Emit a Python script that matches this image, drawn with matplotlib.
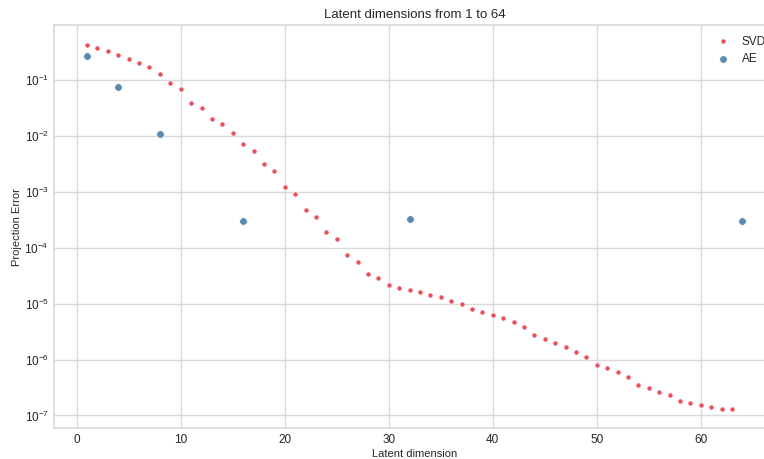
import numpy as np
import matplotlib
matplotlib.use("Agg")
import matplotlib.pyplot as plt

# SVD projection error for every latent dimension 1..63
svd_dims = list(range(1, 64))
svd_err = [
    0.434, 0.383, 0.334, 0.287, 0.243, 0.206, 0.171, 0.131, 0.0895, 0.069,
    0.0397, 0.0315, 0.0200, 0.0165, 0.01155, 0.00716, 0.00543, 0.00318, 0.00236, 0.00123,
    9.25e-4, 4.84e-4, 3.63e-4, 1.91e-4, 1.47e-4, 7.40e-5, 5.69e-5, 3.38e-5, 2.90e-5, 2.20e-5,
    1.95e-5, 1.77e-5, 1.61e-5, 1.46e-5, 1.33e-5, 1.13e-5, 9.8e-6, 8.1e-6, 7.2e-6, 6.3e-6,
    5.5e-6, 4.7e-6, 3.86e-6, 2.81e-6, 2.38e-6, 1.97e-6, 1.67e-6, 1.38e-6, 1.09e-6, 7.98e-7,
    6.93e-7, 5.88e-7, 4.86e-7, 3.50e-7, 3.09e-7, 2.62e-7, 2.32e-7, 1.83e-7, 1.67e-7, 1.51e-7,
    1.43e-7, 1.33e-7, 1.28e-7,
]

# autoencoder runs
ae_dims = [1, 4, 8, 16, 32, 64]
ae_err = [0.27, 0.076, 0.011, 3.05e-4, 3.26e-4, 3.04e-4]

plt.style.use("seaborn-v0_8-whitegrid")
plt.rcParams["font.family"] = ["Liberation Sans", "DejaVu Sans"]
plt.rcParams["text.color"] = ".15"
plt.rcParams["axes.labelcolor"] = ".15"
plt.rcParams["xtick.color"] = ".15"
plt.rcParams["ytick.color"] = ".15"

fig = plt.figure(figsize=(7.64, 4.59), dpi=100)
ax = fig.add_axes([0.0711, 0.0669, 0.9435, 0.8787])

ax.scatter(svd_dims, svd_err, s=14, color="#e9505c", edgecolors="white", linewidths=0.5, label="SVD", zorder=3)
ax.scatter(ae_dims, ae_err, s=30, color="#5b8bb0", edgecolors="white", linewidths=0.5, label="AE", zorder=3)

ax.set_yscale("log")
ax.set_xlim(-2.15, 67.15)
ax.set_ylim(10 ** -7.23, 10 ** -0.01)
ax.set_xticks([0, 10, 20, 30, 40, 50, 60])
ax.set_yticks([1e-7, 1e-6, 1e-5, 1e-4, 1e-3, 1e-2, 1e-1])
ax.minorticks_off()
ax.tick_params(labelsize=8.5, pad=4)

for sp in ax.spines.values():
    sp.set_color(".85")
    sp.set_linewidth(1.25)
ax.grid(color=".85", linewidth=1.0)

ax.set_title("Latent dimensions from 1 to 64", fontsize=9.5, pad=5)
ax.set_xlabel("Latent dimension", fontsize=8, labelpad=2)
ax.set_ylabel("Projection Error", fontsize=8, labelpad=2)
ax.legend(loc="upper right", bbox_to_anchor=(1.002, 1.0), fontsize=8.5,
          handletextpad=0.6, frameon=False)

fig.savefig("out.png", dpi=100)
